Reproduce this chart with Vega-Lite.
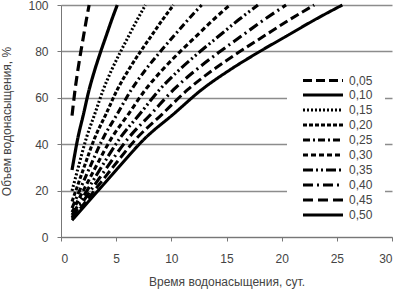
{
  "$schema": "https://vega.github.io/schema/vega-lite/v6.json",
  "width": 331,
  "height": 232,
  "autosize": "none",
  "padding": {"left": 61, "top": 5, "right": 10, "bottom": 55},
  "background": "white",
  "config": {
    "view": {"stroke": null},
    "font": "Liberation Sans",
    "axis": {"labelFont": "Liberation Sans", "titleFont": "Liberation Sans", "labelFontSize": 12, "titleFontSize": 12, "titleFontWeight": "normal", "labelColor": "#444", "titleColor": "#444", "domainColor": "#777", "tickColor": "#777", "tickSize": 4, "gridColor": "#8c8c8c", "gridWidth": 1.5},
    "legend": {"title": null, "orient": "none", "legendX": 226, "legendY": 57, "fillColor": "white", "padding": 12, "symbolType": "M-4,0H4", "symbolSize": 100, "rowPadding": 1, "labelFontSize": 12, "labelColor": "#444", "labelFont": "Liberation Sans", "labelOffset": 19, "symbolStrokeColor": "black", "symbolOffset": 17}
  },
  "data": {"values": [
    {"t": 1, "v": 52.3, "p": "0,45"}, {"t": 1.275, "v": 63.5, "p": "0,45"}, {"t": 1.53, "v": 72, "p": "0,45"}, {"t": 1.785, "v": 79.5, "p": "0,45"}, {"t": 2.04, "v": 86.5, "p": "0,45"}, {"t": 2.295, "v": 93.5, "p": "0,45"}, {"t": 2.55, "v": 100, "p": "0,45"},
    {"t": 1, "v": 28.9, "p": "0,50"}, {"t": 1.53, "v": 42.7, "p": "0,50"}, {"t": 2.04, "v": 53, "p": "0,50"}, {"t": 2.55, "v": 63.5, "p": "0,50"}, {"t": 3.06, "v": 72, "p": "0,50"}, {"t": 3.57, "v": 79.5, "p": "0,50"}, {"t": 4.08, "v": 86.5, "p": "0,50"}, {"t": 4.59, "v": 93.5, "p": "0,50"}, {"t": 5.1, "v": 100, "p": "0,50"},
    {"t": 1, "v": 19.9, "p": "0,15"}, {"t": 1.53, "v": 29.4, "p": "0,15"}, {"t": 2.3, "v": 42.7, "p": "0,15"}, {"t": 3.06, "v": 53, "p": "0,15"}, {"t": 3.83, "v": 63.5, "p": "0,15"}, {"t": 4.59, "v": 72, "p": "0,15"}, {"t": 5.36, "v": 79.5, "p": "0,15"}, {"t": 6.12, "v": 86.5, "p": "0,15"}, {"t": 6.89, "v": 93.5, "p": "0,15"}, {"t": 7.65, "v": 100, "p": "0,15"},
    {"t": 1, "v": 15.3, "p": "0,20"}, {"t": 1.53, "v": 22.5, "p": "0,20"}, {"t": 2.04, "v": 29.4, "p": "0,20"}, {"t": 3.06, "v": 42.7, "p": "0,20"}, {"t": 4.08, "v": 53, "p": "0,20"}, {"t": 5.1, "v": 63.5, "p": "0,20"}, {"t": 6.12, "v": 72, "p": "0,20"}, {"t": 7.14, "v": 79.5, "p": "0,20"}, {"t": 8.16, "v": 86.5, "p": "0,20"}, {"t": 9.18, "v": 93.5, "p": "0,20"}, {"t": 10.2, "v": 100, "p": "0,20"},
    {"t": 1, "v": 12.5, "p": "0,25"}, {"t": 1.28, "v": 15.6, "p": "0,25"}, {"t": 1.91, "v": 22.5, "p": "0,25"}, {"t": 2.55, "v": 29.4, "p": "0,25"}, {"t": 3.83, "v": 42.7, "p": "0,25"}, {"t": 5.1, "v": 53, "p": "0,25"}, {"t": 6.38, "v": 63.5, "p": "0,25"}, {"t": 7.65, "v": 72, "p": "0,25"}, {"t": 8.93, "v": 79.5, "p": "0,25"}, {"t": 10.2, "v": 86.5, "p": "0,25"}, {"t": 11.48, "v": 93.5, "p": "0,25"}, {"t": 12.75, "v": 100, "p": "0,25"},
    {"t": 1, "v": 10.7, "p": "0,30"}, {"t": 1.53, "v": 15.6, "p": "0,30"}, {"t": 2.3, "v": 22.5, "p": "0,30"}, {"t": 3.06, "v": 29.4, "p": "0,30"}, {"t": 4.59, "v": 42.7, "p": "0,30"}, {"t": 6.12, "v": 53, "p": "0,30"}, {"t": 7.65, "v": 63.5, "p": "0,30"}, {"t": 9.18, "v": 72, "p": "0,30"}, {"t": 10.71, "v": 79.5, "p": "0,30"}, {"t": 12.24, "v": 86.5, "p": "0,30"}, {"t": 13.77, "v": 93.5, "p": "0,30"}, {"t": 15.3, "v": 100, "p": "0,30"},
    {"t": 1, "v": 9.5, "p": "0,35"}, {"t": 1.79, "v": 15.6, "p": "0,35"}, {"t": 2.68, "v": 22.5, "p": "0,35"}, {"t": 3.57, "v": 29.4, "p": "0,35"}, {"t": 5.36, "v": 42.7, "p": "0,35"}, {"t": 7.14, "v": 53, "p": "0,35"}, {"t": 8.93, "v": 63.5, "p": "0,35"}, {"t": 10.71, "v": 72, "p": "0,35"}, {"t": 12.5, "v": 79.5, "p": "0,35"}, {"t": 14.28, "v": 86.5, "p": "0,35"}, {"t": 16.07, "v": 93.5, "p": "0,35"}, {"t": 17.85, "v": 100, "p": "0,35"},
    {"t": 1, "v": 8.5, "p": "0,40"}, {"t": 2.04, "v": 15.6, "p": "0,40"}, {"t": 3.06, "v": 22.5, "p": "0,40"}, {"t": 4.08, "v": 29.4, "p": "0,40"}, {"t": 6.12, "v": 42.7, "p": "0,40"}, {"t": 8.16, "v": 53, "p": "0,40"}, {"t": 10.2, "v": 63.5, "p": "0,40"}, {"t": 12.24, "v": 72, "p": "0,40"}, {"t": 14.28, "v": 79.5, "p": "0,40"}, {"t": 16.32, "v": 86.5, "p": "0,40"}, {"t": 18.36, "v": 93.5, "p": "0,40"}, {"t": 20.4, "v": 100, "p": "0,40"},
    {"t": 1, "v": 7.8, "p": "0,05"}, {"t": 2.3, "v": 15.6, "p": "0,05"}, {"t": 3.44, "v": 22.5, "p": "0,05"}, {"t": 4.59, "v": 29.4, "p": "0,05"}, {"t": 6.89, "v": 42.7, "p": "0,05"}, {"t": 9.18, "v": 53, "p": "0,05"}, {"t": 11.48, "v": 63.5, "p": "0,05"}, {"t": 13.77, "v": 72, "p": "0,05"}, {"t": 16.07, "v": 79.5, "p": "0,05"}, {"t": 18.36, "v": 86.5, "p": "0,05"}, {"t": 20.66, "v": 93.5, "p": "0,05"}, {"t": 22.95, "v": 100, "p": "0,05"},
    {"t": 1, "v": 7.2, "p": "0,10"}, {"t": 2.55, "v": 15.6, "p": "0,10"}, {"t": 3.83, "v": 22.5, "p": "0,10"}, {"t": 5.1, "v": 29.4, "p": "0,10"}, {"t": 7.65, "v": 42.7, "p": "0,10"}, {"t": 10.2, "v": 53, "p": "0,10"}, {"t": 12.75, "v": 63.5, "p": "0,10"}, {"t": 15.3, "v": 72, "p": "0,10"}, {"t": 17.85, "v": 79.5, "p": "0,10"}, {"t": 20.4, "v": 86.5, "p": "0,10"}, {"t": 22.95, "v": 93.5, "p": "0,10"}, {"t": 25.5, "v": 100, "p": "0,10"}
  ]},
  "mark": {"type": "line", "color": "black", "interpolate": "monotone"},
  "encoding": {
    "x": {"field": "t", "type": "quantitative", "scale": {"domain": [0, 30], "nice": false}, "axis": {"values": [0, 5, 10, 15, 20, 25, 30], "grid": false, "title": "Время водонасыщения, сут.", "labelPadding": 12, "titlePadding": 12}},
    "y": {"field": "v", "type": "quantitative", "scale": {"domain": [0, 100], "nice": false}, "axis": {"values": [0, 20, 40, 60, 80, 100], "title": "Объем водонасыщения, %", "labelPadding": 9, "titlePadding": 14}},
    "strokeDash": {"field": "p", "type": "nominal",
      "scale": {"domain": ["0,05", "0,10", "0,15", "0,20", "0,25", "0,30", "0,35", "0,40", "0,45", "0,50"],
        "range": [[9, 4], [1, 0], [2, 2], [4, 2], [7, 3, 2, 3], [5, 3], [10, 3, 2, 3, 2, 3], [10, 4, 2, 4], [10, 5], [1, 0]]}},
    "strokeWidth": {"field": "p", "type": "nominal",
      "scale": {"domain": ["0,05", "0,10", "0,15", "0,20", "0,25", "0,30", "0,35", "0,40", "0,45", "0,50"],
        "range": [3, 3.2, 1.5, 2, 2, 2, 2, 2, 1.6, 1.2]}}
  }
}
